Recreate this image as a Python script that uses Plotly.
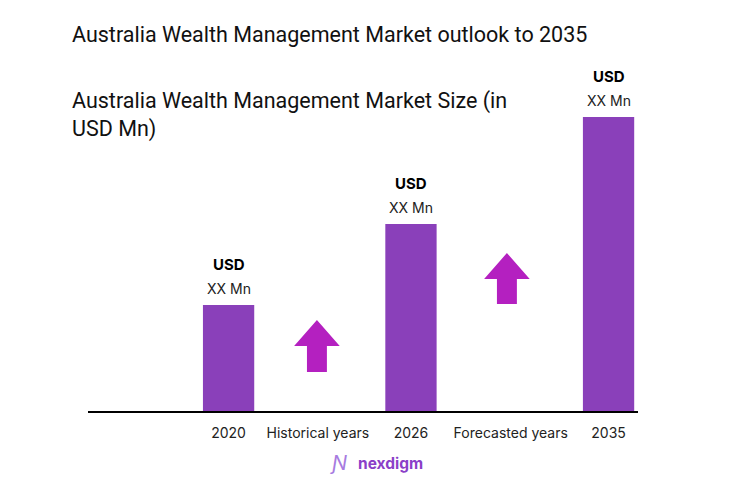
import plotly.graph_objects as go

# категории оси x и значения столбцов
categories = ["2020", "Historical years", "2026", "Forecasted years", "2035"]
bar_years = ["2020", "2026", "2035"]
bar_values = [106, 187, 294]
value_labels = ["XX Mn", "XX Mn", "XX Mn"]
tick_labels = ["2020", "Historical years", "2026", "Forecasted years", "2035"]

# позиции категорий на оси
x_pos = [0, 0.94, 1.92, 2.97, 4]
pos = dict(zip(categories, x_pos))

bar_color = "#8A40BA"
arrow_color = "#B420C0"
font = "Inter"

fig = go.Figure()
fig.add_trace(go.Bar(x=[pos[c] for c in bar_years], y=bar_values,
                     width=0.54, marker_color=bar_color,
                     marker_line_width=0, hoverinfo="skip"))

# подписи над столбцами
for yr, v, lab in zip(bar_years, bar_values, value_labels):
    fig.add_annotation(x=pos[yr], y=v, text="<b>USD</b>", showarrow=False,
                       yanchor="bottom", yshift=29,
                       font=dict(family=font, size=15, color="black"))
    fig.add_annotation(x=pos[yr], y=v, text=lab, showarrow=False,
                       yanchor="bottom", yshift=6,
                       font=dict(family=font, size=14, color="#222"))


# стрелки вверх между столбцами
def up_arrow(xc, y0, y1):
    hw, sw, head = 0.24, 0.105, 26
    pts = [(xc - sw, y0), (xc - sw, y1 - head), (xc - hw, y1 - head),
           (xc, y1), (xc + hw, y1 - head), (xc + sw, y1 - head), (xc + sw, y0)]
    path = "M " + " L ".join(f"{a},{b}" for a, b in pts) + " Z"
    fig.add_shape(type="path", path=path, xref="x", yref="y",
                  fillcolor=arrow_color, line_width=0, layer="above")


up_arrow(pos["Historical years"] - 0.01, 39, 91)
up_arrow(pos["Forecasted years"] - 0.04, 107, 158)

# заголовки
fig.add_annotation(text="Australia Wealth Management Market outlook to 2035",
                   xref="paper", yref="paper", x=-0.033, y=1.0, yshift=57,
                   xanchor="left", yanchor="middle", showarrow=False,
                   font=dict(family="Roboto", size=21.5, color="#111"))
fig.add_annotation(text="Australia Wealth Management Market Size (in<br>USD Mn)",
                   xref="paper", yref="paper", x=-0.033, y=1.0, yshift=-24,
                   xanchor="left", yanchor="middle", align="left", showarrow=False,
                   font=dict(family="Roboto", size=21.5, color="#111"))

# логотип
fig.add_annotation(text="<i>Ɲ</i>", xref="paper", yref="paper", x=0.455, y=-0.205,
                   showarrow=False, font=dict(family=font, size=20, color="#A77BE0"))
fig.add_annotation(text="<b>nexdigm</b>", xref="paper", yref="paper", x=0.55, y=-0.2,
                   showarrow=False, font=dict(family=font, size=15.5, color="#8A3FC8"))

fig.update_layout(
    width=739, height=499,
    margin=dict(l=80, r=109, t=83, b=96),
    paper_bgcolor="white", plot_bgcolor="white",
    showlegend=False,
    xaxis=dict(range=[-1.48, 4.31], tickvals=x_pos, ticktext=tick_labels,
               showgrid=False, zeroline=False, showline=True,
               linecolor="black", linewidth=2, ticks="", ticklabelstandoff=8,
               tickfont=dict(family=font, size=14, color="#222")),
    yaxis=dict(range=[0, 320], visible=False, showgrid=False),
)

fig.write_html("out.html")
